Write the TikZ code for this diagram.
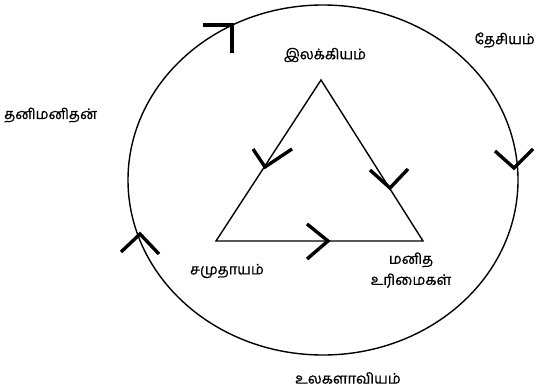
\documentclass[tikz,border=0pt]{standalone}
\usepackage{fontspec}
\newfontfamily\tamilfont[Script=Tamil, FakeBold=0.6]{Hind Madurai}
\usetikzlibrary{arrows.meta}

\begin{document}
\begin{tikzpicture}[x=1pt, y=-1pt]
  \tikzset{
    rim/.style={line width=1.4pt},
    barb/.style={line width=3.4pt, line join=miter},
    lbl/.style={font=\tamilfont\fontsize{14.5}{17}\selectfont, inner sep=0pt}
  }
  \useasboundingbox (0,0) rectangle (537,390);

  % outer cycle
  \draw[rim] (323,180) ellipse [x radius=195, y radius=175];
  \draw[barb] (203,25) -- (232,25) -- (232,53);
  \draw[barb] (495,151) -- (514,168) -- (533,149);
  \draw[barb] (121,252) -- (140,234) -- (159,254);

  % inner triangle
  \coordinate (top) at (321,80);
  \coordinate (left) at (216,241);
  \coordinate (right) at (423,241);
  \draw[rim] (top) -- (left) -- (right) -- cycle;
  \draw[barb] (253,149) -- (265,167) -- (292,149);
  \draw[barb] (370,170) -- (390,188) -- (408,169);
  \draw[barb] (307,224) -- (328,241) -- (307,259);

  \node[lbl] (lit) at (325,55) {இலக்கியம்};
  \node[lbl, anchor=east] (nation) at (535,40) {தேசியம்};
  \node[lbl, anchor=west] (self) at (4,115) {தனிமனிதன்};
  \node[lbl] (society) at (227,271) {சமுதாயம்};
  \node[lbl, align=center] (rights) at (411,270) {மனித\\[4pt]உரிமைகள்};
  \node[lbl] (world) at (348,378) {உலகளாவியம்};
\end{tikzpicture}
\end{document}
